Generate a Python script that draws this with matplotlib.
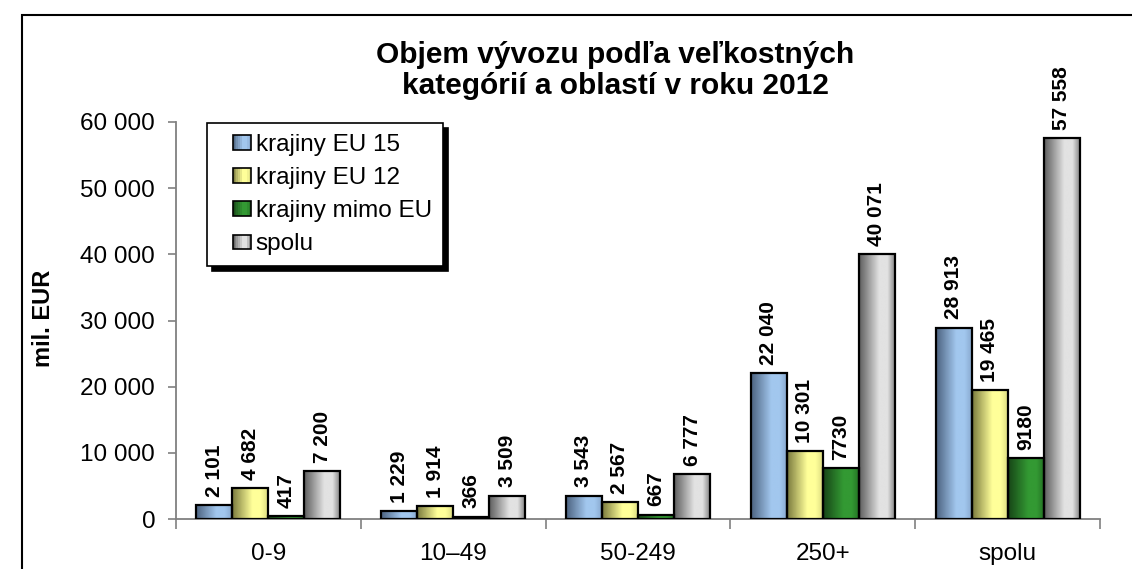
import numpy as np
import matplotlib
matplotlib.use("Agg")
import matplotlib.pyplot as plt
from matplotlib.colors import LinearSegmentedColormap
from matplotlib.patches import Rectangle
from matplotlib.legend_handler import HandlerBase
from matplotlib.ticker import FuncFormatter, FixedLocator

plt.rcParams['font.family'] = ['Liberation Sans', 'DejaVu Sans']

# ---------------------------------
# Data (mil. EUR)
# ---------------------------------
categories = ["0-9", "10–49", "50-249", "250+", "spolu"]
series_names = ["krajiny EU 15", "krajiny EU 12", "krajiny mimo EU", "spolu"]
eu15 = [2101, 1229, 3543, 22040, 28913]
eu12 = [4682, 1914, 2567, 10301, 19465]
mimo_eu = [417, 366, 667, 7730, 9180]
spolu = [7200, 3509, 6777, 40071, 57558]
values = [eu15, eu12, mimo_eu, spolu]
# points whose labels are written without a thousands separator
plain_labels = {(2, 3), (2, 4)}

# left-to-right shading of each bar (cylinder look)
stops = [0.0, 0.55, 0.78, 1.0]
shades = [
    ["#4c6380", "#a2c7ee", "#a2c7ee", "#86a6cc"],
    ["#7a7a3e", "#ffff99", "#ffff99", "#d8d880"],
    ["#174517", "#339933", "#339933", "#247024"],
    ["#5e5e5e", "#e2e2e2", "#e2e2e2", "#7c7c7c"],
]
cmaps = [LinearSegmentedColormap.from_list("g%d" % i, list(zip(stops, s)))
         for i, s in enumerate(shades)]


def space_fmt(v):
    return f"{int(v):,}".replace(",", " ")


class GradientHandler(HandlerBase):
    """Legend key drawn as a small shaded square."""
    def __init__(self, cmap):
        super().__init__()
        self.cmap = cmap

    def create_artists(self, legend, orig_handle, xdescent, ydescent,
                       width, height, fontsize, trans):
        w = width * 0.55
        x0 = -xdescent + width - w
        n = 10
        arts = []
        for i in range(n):
            arts.append(Rectangle((x0 + w * i / n, -ydescent), w / n, height,
                                  facecolor=self.cmap((i + 0.5) / n),
                                  edgecolor='none', transform=trans))
        arts.append(Rectangle((x0, -ydescent), w, height, facecolor='none',
                              edgecolor='black', lw=1.2, transform=trans))
        return arts


fig = plt.figure(figsize=(11.32, 5.69), dpi=100)
ax = fig.add_axes([176 / 1132, 50 / 569, 924 / 1132, 397 / 569])

x = np.arange(len(categories))
bar_w = 0.195
offsets = (np.arange(4) - 1.5) * bar_w
grad = np.linspace(0, 1, 64)[np.newaxis, :]

containers = []
for si, (vals, cmap) in enumerate(zip(values, cmaps)):
    bars = ax.bar(x + offsets[si], vals, width=bar_w, facecolor='none',
                  edgecolor='black', linewidth=1.6, zorder=3,
                  label=series_names[si])
    containers.append(bars)
    for ci, rect in enumerate(bars):
        bx, bw, bh = rect.get_x(), rect.get_width(), rect.get_height()
        ax.imshow(grad, cmap=cmap, extent=[bx, bx + bw, 0, bh],
                  aspect='auto', zorder=2, interpolation='bilinear')
        txt = str(vals[ci]) if (si, ci) in plain_labels else space_fmt(vals[ci])
        ax.annotate(txt, (bx + bw / 2, bh), xytext=(0, 6),
                    textcoords='offset points', rotation=90, ha='center',
                    va='bottom', fontsize=15, fontweight='bold', zorder=4)

ax.set_xlim(-0.5, len(categories) - 0.5)
ax.set_ylim(0, 60000)

# axes styling
for side in ['top', 'right']:
    ax.spines[side].set_visible(False)
for side in ['left', 'bottom']:
    ax.spines[side].set_color('#808080')
    ax.spines[side].set_linewidth(1.3)

ax.set_yticks(np.arange(0, 60001, 10000))
ax.yaxis.set_major_formatter(FuncFormatter(lambda v, p: space_fmt(v)))
ax.tick_params(axis='y', direction='out', length=6, width=1.2,
               color='#808080', pad=9, labelsize=17.5)

ax.set_xticks(x)
ax.set_xticklabels(categories)
ax.xaxis.set_minor_locator(FixedLocator(np.arange(-0.5, len(categories), 1.0)))
ax.tick_params(axis='x', which='major', length=0, pad=17, labelsize=17.5)
ax.tick_params(axis='x', which='minor', direction='out', length=7,
               width=1.2, color='#808080')

# legend with black drop shadow
leg = ax.legend(handles=containers, loc='upper left',
                bbox_to_anchor=(0.0335, 0.9975), borderaxespad=0,
                fontsize=17.5, frameon=True, fancybox=False,
                handler_map={c: GradientHandler(cm) for c, cm in zip(containers, cmaps)},
                handlelength=1.36, handleheight=0.55, handletextpad=0.2,
                labelspacing=0.46, borderpad=0.45,
                shadow={'ox': 3.6, 'oy': -3.6, 'shade': 1.0, 'alpha': 1.0})
leg.get_frame().set_edgecolor('black')
leg.get_frame().set_linewidth(1.2)
leg.set_zorder(5)

# titles and axis label
fig.text(615 / 1132, 1 - 63 / 569, "Objem vývozu podľa veľkostných",
         ha='center', va='baseline', fontsize=21.5, fontweight='bold')
fig.text(615 / 1132, 1 - 94 / 569, "kategórií a oblastí v roku 2012",
         ha='center', va='baseline', fontsize=21.5, fontweight='bold')
fig.text(43 / 1132, 1 - 318 / 569, "mil. EUR", rotation=90, ha='center',
         va='center', fontsize=17, fontweight='bold')

# outer chart frame
fig.patches.append(Rectangle((22 / 1132, -0.1), 1.2, 1 - 15 / 569 + 0.1,
                             transform=fig.transFigure, fill=False,
                             edgecolor='black', linewidth=1.5))

fig.savefig("out.png", dpi=100)
